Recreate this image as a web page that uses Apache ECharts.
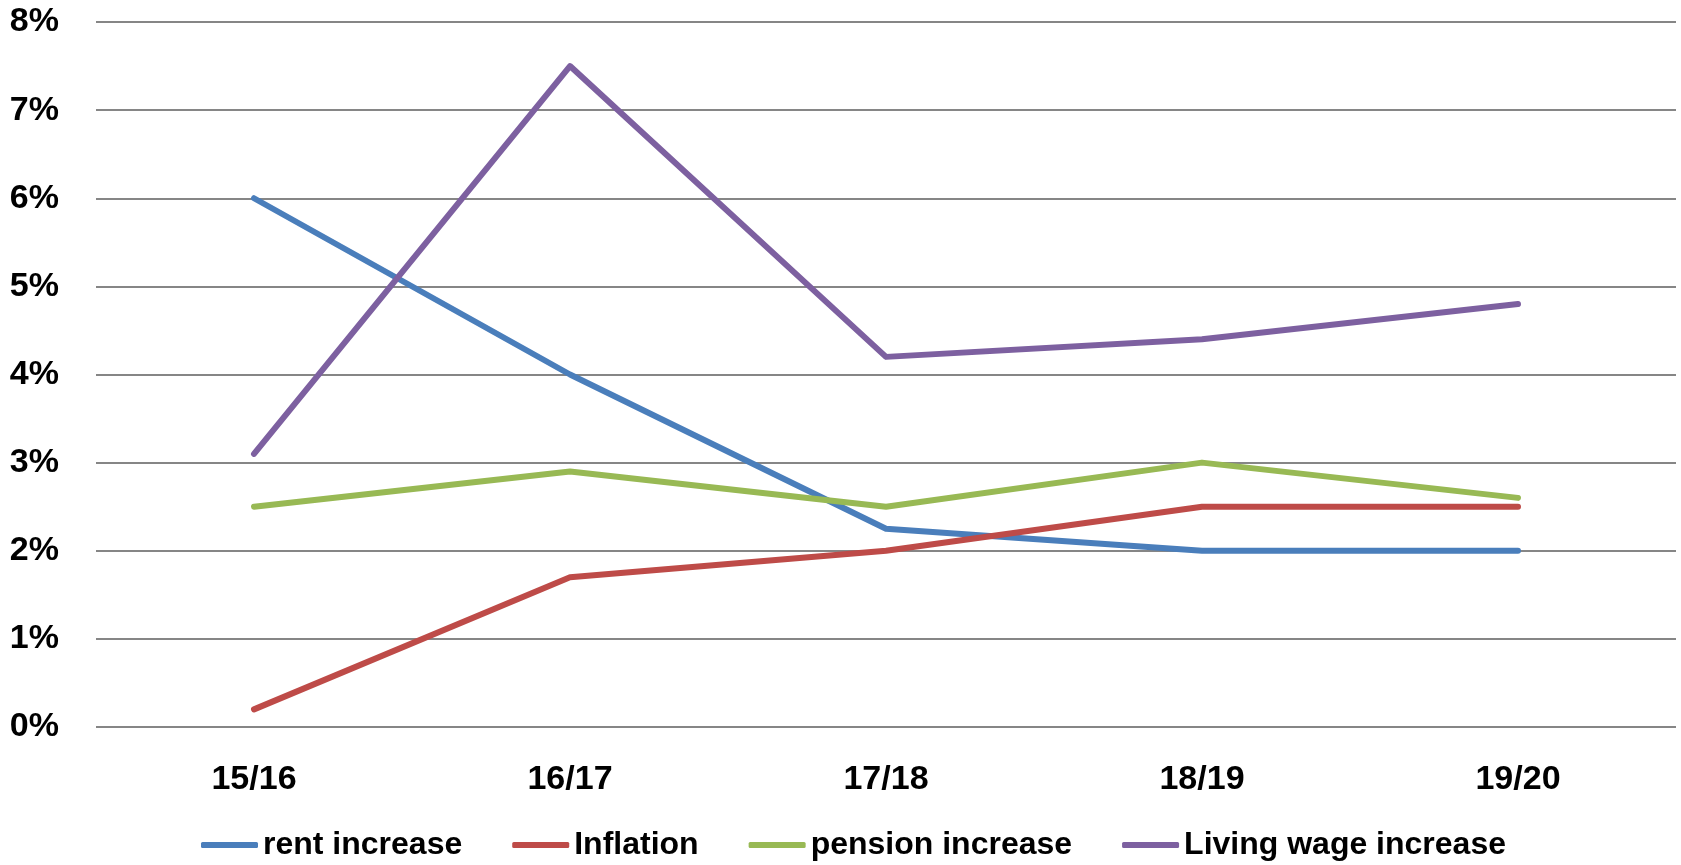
<!DOCTYPE html>
<html>
<head>
<meta charset="utf-8">
<script src="https://cdn.jsdelivr.net/npm/echarts@6/dist/echarts.min.js"></script>
<style>
  html, body { margin: 0; padding: 0; background: #fff; }
  #chart { width: 1681px; height: 865px; }
</style>
</head>
<body>
<div id="chart"></div>
<script>
// years on the x axis
const years = ['15/16', '16/17', '17/18', '18/19', '19/20']

// values in percent
const rentIncrease = [6.0, 4.0, 2.25, 2.0, 2.0]
const inflation = [0.2, 1.7, 2.0, 2.5, 2.5]
const pensionIncrease = [2.5, 2.9, 2.5, 3.0, 2.6]
const livingWageIncrease = [3.1, 7.5, 4.2, 4.4, 4.8]

const seriesNames = ['rent increase', 'Inflation', 'pension increase', 'Living wage increase']
const colors = ['#4a7ebb', '#be4b48', '#98b954', '#7d60a0']

const font = '"Liberation Sans", Arial, sans-serif'

const chart = echarts.init(document.getElementById('chart'))

function line(name, data, color) {
  return {
    name,
    type: 'line',
    data,
    symbol: 'none',
    lineStyle: { color, width: 6, cap: 'round', join: 'round' },
    itemStyle: { color },
    animation: false
  }
}

chart.setOption({
  color: colors,
  grid: {
    left: 96,
    right: 5,
    top: 22,
    bottom: 138
  },
  legend: {
    data: seriesNames,
    bottom: 4,
    left: 201,
    padding: 0,
    icon: 'roundRect',
    itemWidth: 57,
    itemHeight: 6,
    itemGap: 50,
    textStyle: {
      fontFamily: font,
      fontWeight: 'bold',
      fontSize: 32,
      color: '#000'
    }
  },
  xAxis: {
    type: 'category',
    data: years,
    boundaryGap: true,
    axisLine: { show: false },
    axisTick: { show: false },
    axisLabel: {
      margin: 36,
      fontFamily: font,
      fontWeight: 'bold',
      fontSize: 34,
      color: '#000'
    }
  },
  yAxis: {
    type: 'value',
    min: 0,
    max: 8,
    interval: 1,
    axisLine: { show: false },
    axisTick: { show: false },
    splitLine: { lineStyle: { color: '#868686', width: 2 } },
    axisLabel: {
      formatter: '{value}%',
      margin: 37,
      fontFamily: font,
      fontWeight: 'bold',
      fontSize: 34,
      color: '#000'
    }
  },
  series: [
    line(seriesNames[0], rentIncrease, colors[0]),
    line(seriesNames[1], inflation, colors[1]),
    line(seriesNames[2], pensionIncrease, colors[2]),
    line(seriesNames[3], livingWageIncrease, colors[3])
  ]
})
</script>
</body>
</html>
